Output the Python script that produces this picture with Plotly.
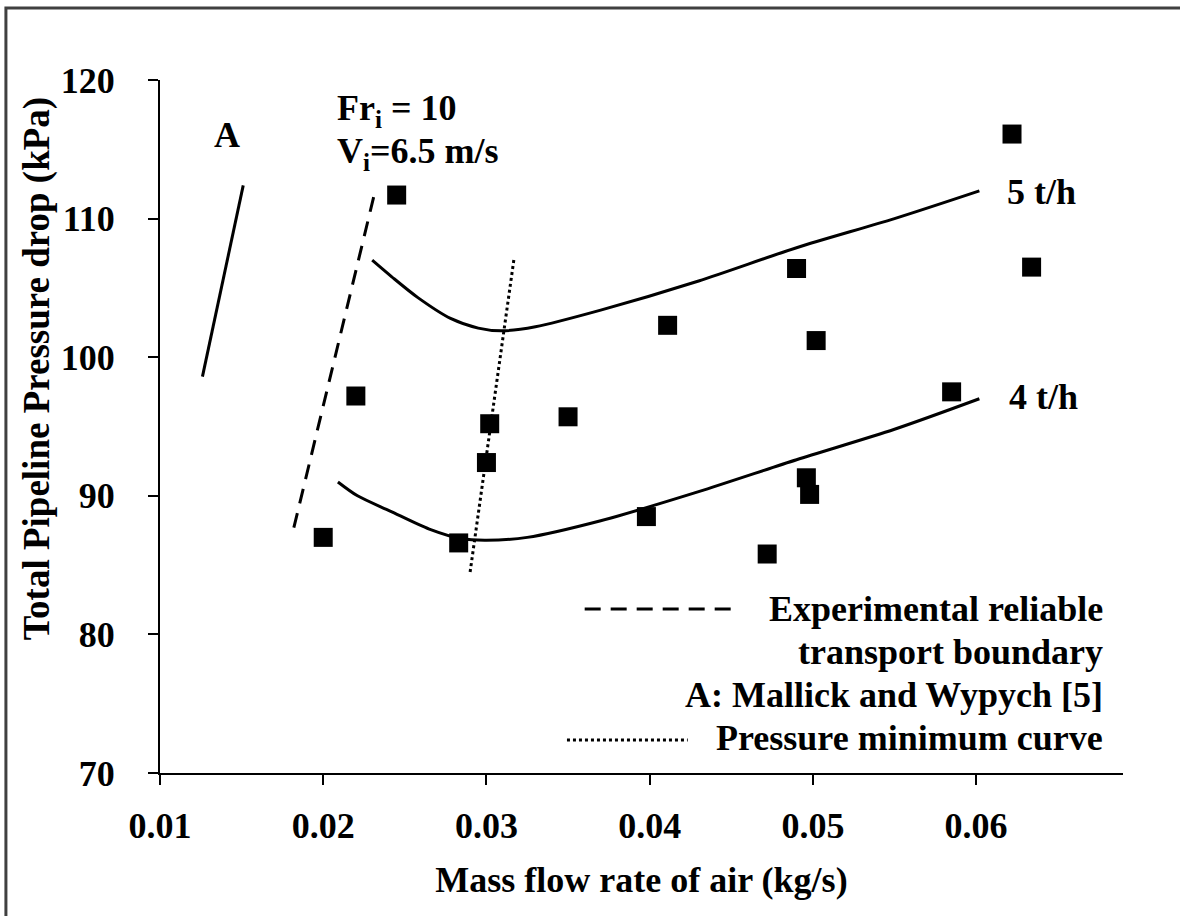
import plotly.graph_objects as go

# Measured pressure drop points
air_flow = [0.0200, 0.0220, 0.0245, 0.0283, 0.0300, 0.0302, 0.0350, 0.0398, 0.0411,
            0.0472, 0.0490, 0.0496, 0.0498, 0.0502, 0.0585, 0.0622, 0.0634]
pressure = [87.0, 97.2, 111.7, 86.6, 92.4, 95.2, 95.7, 88.5, 102.3,
            85.8, 106.4, 91.3, 90.1, 101.2, 97.5, 116.1, 106.5]

# Predicted curves for two solids feed rates
curve5_x = [0.0230, 0.0242, 0.0258, 0.0278, 0.0295, 0.0309, 0.0330, 0.0370, 0.0430, 0.0490, 0.0550, 0.0602]
curve5_y = [107.0, 105.8, 104.3, 102.8, 102.1, 101.9, 102.2, 103.4, 105.5, 107.9, 110.0, 112.0]
curve4_x = [0.0209, 0.0221, 0.0241, 0.0265, 0.0285, 0.0300, 0.0325, 0.0370, 0.0430, 0.0490, 0.0550, 0.0602]
curve4_y = [91.0, 90.0, 88.9, 87.6, 86.9, 86.8, 87.0, 88.2, 90.3, 92.6, 94.8, 97.0]

# Boundary lines
boundary_x = [0.0182, 0.0231]
boundary_y = [87.7, 111.6]
minimum_x = [0.0290, 0.0317]
minimum_y = [84.5, 107.2]
mallick_x = [0.0126, 0.0151]
mallick_y = [98.6, 112.4]

x_ticks = [0.01, 0.02, 0.03, 0.04, 0.05, 0.06]
x_tick_text = ["0.01", "0.02", "0.03", "0.04", "0.05", "0.06"]
y_ticks = [70, 80, 90, 100, 110, 120]

FONT = "Liberation Serif, Times New Roman, DejaVu Serif, serif"
BLACK = "#000000"
SIZE = 36

fig = go.Figure()

fig.add_trace(go.Scatter(x=boundary_x, y=boundary_y, mode="lines",
                         line=dict(color=BLACK, width=3, dash="15px,10px")))
fig.add_trace(go.Scatter(x=minimum_x, y=minimum_y, mode="lines",
                         line=dict(color=BLACK, width=3, dash="3px,3px")))
fig.add_trace(go.Scatter(x=mallick_x, y=mallick_y, mode="lines",
                         line=dict(color=BLACK, width=3)))
fig.add_trace(go.Scatter(x=curve5_x, y=curve5_y, mode="lines",
                         line=dict(color=BLACK, width=3, shape="spline", smoothing=0.8)))
fig.add_trace(go.Scatter(x=curve4_x, y=curve4_y, mode="lines",
                         line=dict(color=BLACK, width=3, shape="spline", smoothing=0.8)))
fig.add_trace(go.Scatter(x=air_flow, y=pressure, mode="markers",
                         marker=dict(symbol="square", size=19, color=BLACK, line=dict(width=0))))

text_font = dict(family=FONT, size=SIZE, color=BLACK)

annotations = [
    dict(x=0.0141, y=116.0, xref="x", yref="y", text="<b>A</b>", showarrow=False,
         font=text_font, xanchor="center", yanchor="middle"),
    dict(x=0.0207, y=117.8, xref="x", yref="y", text="<b>Fr<sub>i</sub> = 10</b>", showarrow=False,
         font=text_font, xanchor="left", yanchor="middle"),
    dict(x=0.0207, y=114.7, xref="x", yref="y", text="<b>V<sub>i</sub>=6.5 m/s</b>", showarrow=False,
         font=text_font, xanchor="left", yanchor="middle"),
    dict(x=0.0618, y=111.9, xref="x", yref="y", text="<b>5 t/h</b>", showarrow=False,
         font=text_font, xanchor="left", yanchor="middle"),
    dict(x=0.0619, y=97.1, xref="x", yref="y", text="<b>4 t/h</b>", showarrow=False,
         font=text_font, xanchor="left", yanchor="middle"),
    # vertical axis title, set a little above the plot centre
    dict(x=-0.1275, y=0.583, xref="paper", yref="paper", text="<b>Total Pipeline Pressure drop (kPa)</b>",
         showarrow=False, font=dict(family=FONT, size=37, color=BLACK), textangle=-90,
         xanchor="center", yanchor="middle"),
]

legend_lines = ["Experimental reliable", "transport boundary",
                "A: Mallick and Wypych [5]", "Pressure minimum curve"]
legend_y = [0.2367, 0.1746, 0.1126, 0.0505]
for label, ly in zip(legend_lines, legend_y):
    annotations.append(dict(x=0.981, y=ly, xref="paper", yref="paper", text=f"<b>{label}</b>",
                            showarrow=False, font=text_font, xanchor="right", yanchor="middle"))

shapes = [
    # legend keys
    dict(type="line", xref="paper", yref="paper", x0=0.441, x1=0.602, y0=0.2367, y1=0.2367,
         line=dict(color=BLACK, width=3, dash="16px,10px")),
    dict(type="line", xref="paper", yref="paper", x0=0.4226, x1=0.548, y0=0.0476, y1=0.0476,
         line=dict(color=BLACK, width=3, dash="3px,3px")),
    # outer frame
    dict(type="rect", xref="paper", yref="paper", x0=-0.160, x1=1.07, y0=-0.23, y1=1.104,
         line=dict(color="#404040", width=3), fillcolor="rgba(0,0,0,0)", layer="below"),
]

axis_common = dict(
    showgrid=False, zeroline=False, showline=True, linecolor=BLACK, linewidth=2,
    ticks="outside", ticklen=10, tickwidth=2, tickcolor=BLACK,
    tickfont=dict(family=FONT, size=SIZE, color=BLACK),
)

fig.update_layout(
    width=1180, height=916, autosize=False,
    margin=dict(l=160, r=57, t=80, b=143),
    paper_bgcolor="white", plot_bgcolor="white",
    showlegend=False,
    annotations=annotations,
    shapes=shapes,
    xaxis=dict(range=[0.01, 0.069], tickvals=x_ticks, ticktext=[f"<b>{t}</b>" for t in x_tick_text],
               ticklabelstandoff=10,
               title=dict(text="<b>Mass flow rate of air (kg/s)</b>", font=dict(family=FONT, size=SIZE, color=BLACK),
                          standoff=22),
               **axis_common),
    yaxis=dict(range=[70, 120], tickvals=y_ticks, ticktext=[f"<b>{t}</b>" for t in y_ticks],
               ticklabelstandoff=26,
               **axis_common),
)

fig.write_html("out.html")
